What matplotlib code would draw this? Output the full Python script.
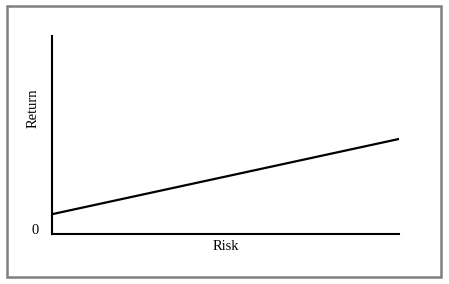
import matplotlib
matplotlib.use("Agg")
import matplotlib.pyplot as plt
from matplotlib.patches import Rectangle

# data
risk = [0.0, 1.0]
ret = [0.10, 0.48]

W, H = 449, 284

fig = plt.figure(figsize=(W / 100, H / 100), dpi=100)
fig.patch.set_facecolor("white")

# outer frame
fig.patches.append(Rectangle((7 / W, 1 - 277 / H), (441 - 7) / W, (277 - 6) / H,
                             transform=fig.transFigure, fill=False,
                             edgecolor="#7f7f7f", linewidth=1.8))

ax = fig.add_axes([52 / W, 1 - 234 / H, (399 - 52) / W, (234 - 36) / H])
ax.plot(risk, ret, color="black", linewidth=1.6)
ax.set_xlim(0, 1)
ax.set_ylim(0, 1)
ax.spines["top"].set_visible(False)
ax.spines["right"].set_visible(False)
ax.spines["left"].set_linewidth(1.5)
ax.spines["bottom"].set_linewidth(1.5)
ax.set_xticks([])
ax.set_yticks([])

font = {"family": "Liberation Serif", "size": 10.5}
ax.set_xlabel("Risk", fontdict=font, labelpad=4)
ax.text(-0.055, 0.636, "Return", transform=ax.transAxes, rotation=90,
        ha="center", va="center", fontdict=font)
ax.text(-0.05, 0.02, "0", transform=ax.transAxes, ha="center", va="center", fontdict=font)

fig.savefig("out.png", dpi=100)
